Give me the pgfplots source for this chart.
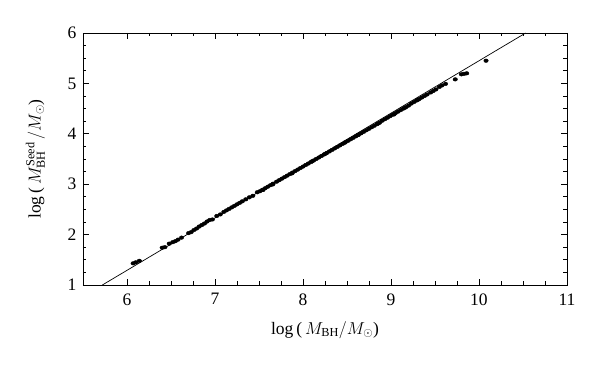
\documentclass[border=0pt]{standalone}
\usepackage{pgfplots}
\pgfplotsset{compat=1.18}
\usepackage{fontspec}
\setmainfont{Liberation Serif}
\begin{document}
\begin{tikzpicture}
\begin{axis}[
  name=ax,
  scale only axis,
  width=484pt, height=252pt,
  xmin=5.5, xmax=11, ymin=1, ymax=6,
  xtick={6,7,8,9,10,11}, ytick={1,2,3,4,5,6},
  minor x tick num=3, minor y tick num=3,
  tick align=inside,
  major tick length=6pt, minor tick length=3.5pt,
  every tick/.style={black, line width=0.6pt},
  axis line style={line width=0.8pt},
  tick label style={font=\fontsize{17.5}{20}\selectfont},
  label style={font=\fontsize{17.5}{21}\selectfont},
  /pgf/number format/assume math mode=true,
  xticklabel style={yshift=-5pt},
  yticklabel style={xshift=-3pt},
  xlabel={log\,(\,$M_{\mathrm{BH}}/M_{\odot}$)},
  ylabel={log\,(\,$M^{\mathrm{Seed}}_{\mathrm{BH}}\,/M_{\odot}$)},
  xlabel style={yshift=-9pt},
  ylabel style={yshift=16pt},
  clip=true,
]
\addplot[black, line width=0.7pt] coordinates {(5.72,1) (10.53,6)};
\addplot[only marks, mark=*, mark size=1.8pt, mark options={xscale=1.25, fill=black, draw=black}] table {
x y
6.07 1.43
6.10 1.45
6.14 1.48
6.40 1.74
6.43 1.75
6.48 1.82
6.52 1.85
6.55 1.87
6.58 1.90
6.62 1.94
6.70 2.03
6.73 2.05
6.76 2.09
6.79 2.12
6.82 2.16
6.85 2.19
6.88 2.22
6.91 2.26
6.94 2.29
6.97 2.30
7.02 2.37
7.06 2.40
7.10 2.45
7.13 2.48
7.16 2.51
7.19 2.54
7.22 2.57
7.25 2.60
7.28 2.63
7.31 2.66
7.35 2.70
7.39 2.74
7.43 2.77
7.48 2.84
7.51 2.86
7.54 2.89
7.57 2.92
7.60 2.95
7.63 2.98
7.66 3.01
7.70 3.05
7.73 3.08
7.76 3.11
7.79 3.14
7.82 3.17
7.85 3.20
7.88 3.23
7.91 3.26
7.94 3.29
7.97 3.32
8.00 3.35
8.03 3.38
8.06 3.41
8.09 3.44
8.12 3.47
8.15 3.50
8.18 3.53
8.21 3.56
8.24 3.59
8.27 3.62
8.30 3.65
8.33 3.68
8.36 3.71
8.39 3.74
8.42 3.77
8.45 3.80
8.48 3.83
8.51 3.86
8.54 3.89
8.57 3.92
8.60 3.95
8.63 3.98
8.66 4.01
8.69 4.04
8.72 4.07
8.75 4.10
8.78 4.13
8.81 4.16
8.84 4.19
8.87 4.22
8.90 4.26
8.93 4.29
8.96 4.32
8.99 4.35
9.02 4.38
9.05 4.41
9.08 4.44
9.11 4.47
9.14 4.50
9.17 4.53
9.20 4.56
9.23 4.60
9.26 4.63
9.29 4.66
9.32 4.69
9.35 4.72
9.38 4.75
9.41 4.78
9.45 4.82
9.48 4.85
9.51 4.88
9.55 4.93
9.58 4.96
9.62 4.99
9.73 5.08
9.80 5.18
9.83 5.19
9.86 5.20
10.08 5.45
7.545 2.885
7.655 2.995
7.875 3.215
8.105 3.455
8.255 3.605
8.475 3.825
8.625 3.975
8.855 4.205
9.035 4.385
9.155 4.515
9.305 4.675
};
\end{axis}
\path (ax.south west) ++(-83pt,-82pt) rectangle ++(600pt,367pt);
\end{tikzpicture}
\end{document}
